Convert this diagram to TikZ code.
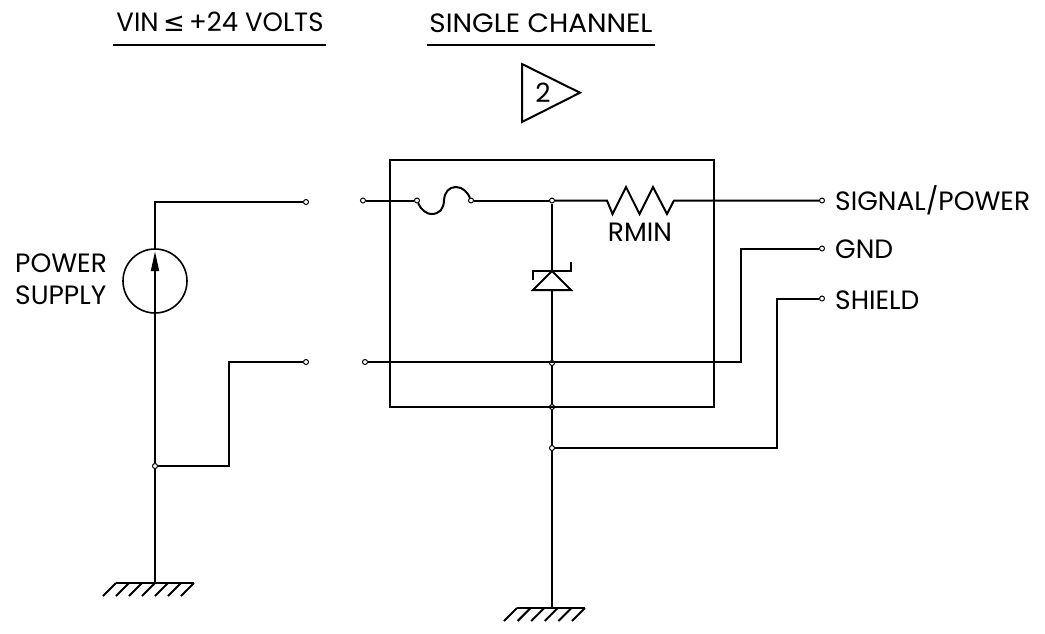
\documentclass[tikz,border=0pt]{standalone}
\usepackage{fontspec}
\usetikzlibrary{arrows.meta}
\setmainfont{Poppins}
\newfontfamily\symfont{DejaVu Sans}
\tikzset{
  wire/.style={line width=2pt,black},
  thinwire/.style={line width=1.8pt,black},
  term/.style={circle,draw,line width=1pt,fill=white,inner sep=0pt,minimum size=5pt},
  lbl/.style={inner sep=0pt,font=\fontsize{26.5}{30}\selectfont}
}
\def\groundbar#1#2#3#4{\draw[wire] (#1,#3) -- (#2,#3);
  \foreach \hx in {0,...,#4} \draw[wire] ({#1+\hx*(#2-#1)/#4},#3) -- ++(-13,13);}

\begin{document}
\begin{tikzpicture}[x=1pt,y=-1pt]
   \useasboundingbox (0,0) rectangle (1045,633);
   % terminals
   \node[term] (ptop) at (306,202) {};
   \node[term] (pbot) at (306,362) {};
   \node[term] (intop) at (363,200.5) {};
   \node[term] (inbot) at (365,362) {};
   \node[term] (fusea) at (417,200.5) {};
   \node[term] (fuseb) at (471,200.5) {};
   \node[term] (sig) at (822,200.5) {};
   \node[term] (gnd) at (822,248.5) {};
   \node[term] (shd) at (822,298.5) {};
   \node[term] (ja) at (552,200.5) {};
   \node[term] (jb) at (552,363) {};
   \node[term] (jc) at (552,407) {};
   \node[term] (jd) at (552,448) {};
   \node[term] (je) at (155,466) {};
   \coordinate (gleft) at (155,583);
   \coordinate (gright) at (552,608);
   \coordinate (ra) at (607,200.5);
   \coordinate (rb) at (674,200.5);
   \coordinate (za) at (552,271);
   \coordinate (zb) at (552,290);
   % module box
   \draw[thinwire] (390,160) rectangle (714,407);
   % supply
   \node[circle,draw,line width=1.6pt,inner sep=0pt,minimum size=64pt] (source) at (155,281) {};
   \draw[wire] (source.north) |- (ptop);
   \draw[wire] (source.south) -- (je);
   \draw[wire] (je) -- (gleft);
   \draw[wire,-{Triangle[length=20pt,width=8pt]}] (source.south) -- ([yshift=-3pt]source.north);
   \draw[wire] (je) -- (229,466) |- (pbot);
   \groundbar{116}{194}{583}{6}
   % fuse
   \draw[wire] (intop) -- (fusea);
   \draw[wire] (fusea) .. controls (421,210) and (427,214) .. (431,214)
      .. controls (440,214) and (443.5,209) .. (444,200.5)
      .. controls (444.5,192) and (449,187) .. (456,187)
      .. controls (463,187) and (468,193) .. (fuseb);
   \draw[wire] (fuseb) -- (ja);
   % resistor
   \draw[wire] (ja) -- (ra) -- (612.5,214) -- (626,187) -- (639.5,214) -- (653,187) -- (667,214) -- (rb) -- (sig);
   % zener
   \draw[wire] (ja) -- (za);
   \draw[wire,line join=miter] (za) -- (571,290) -- (533,290) -- cycle;
   \draw[wire] (533,280) -- (533,271) -- (571,271) -- (571,262);
   \draw[wire] (zb) -- (jb);
   \draw[wire] (jb) -- (jc);
   \draw[wire] (jc) -- (jd);
   \draw[wire] (jd) -- (gright);
   \groundbar{517}{585}{608}{5}
   % returns
   \draw[wire] (inbot) -- (741,362) |- (gnd);
   \draw[wire] (jd) -- (777,448) |- (shd);
   % texts
   \node[lbl] (vin) at (220,22) {\scalebox{.98}[1]{VIN\,{\symfont≤}\,+24 VOLTS}};
   \node[lbl] (chan) at (541,23) {\scalebox{1.05}[1]{SINGLE CHANNEL}};
   \draw[wire] (113,44.7) -- (326,44.7);
   \draw[wire] (427,44.7) -- (655,44.7);
   \draw[wire,line join=miter] (522,64) -- (580,92.7) -- (522,122) -- cycle;
   \node[lbl] (two) at (543,93) {2};
   \node[lbl,anchor=west] (powerl) at (15,263) {POWER};
   \node[lbl,anchor=west] (supplyl) at (15,295) {SUPPLY};
   \node[lbl] (rmin) at (640,232) {RMIN};
   \node[lbl,anchor=west] (sigl) at (835,200) {SIGNAL/POWER};
   \node[lbl,anchor=west] (gndl) at (835,249) {GND};
   \node[lbl,anchor=west] (shdl) at (835,300) {SHIELD};
\end{tikzpicture}
\end{document}
